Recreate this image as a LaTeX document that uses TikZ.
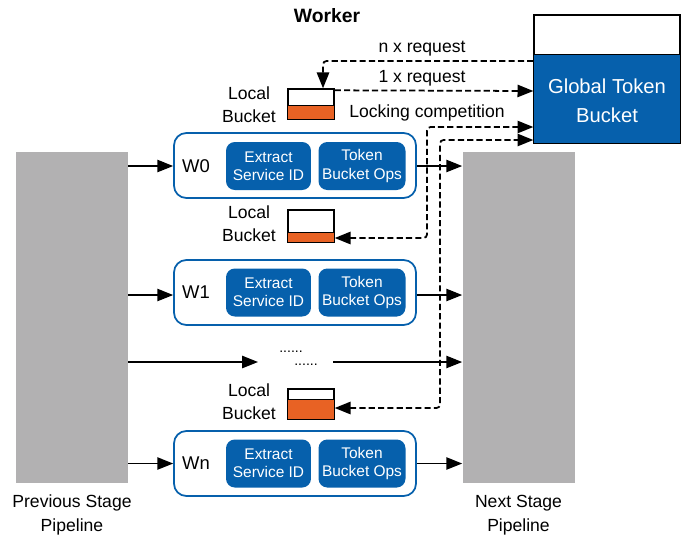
\documentclass[tikz,border=0pt]{standalone}
\usepackage{fontspec}
\setmainfont{Liberation Sans}
\usetikzlibrary{arrows.meta,calc}
\definecolor{iblue}{RGB}{6,96,172}
\definecolor{borange}{RGB}{232,98,36}
\definecolor{pgray}{RGB}{178,177,178}

\begin{document}
\begin{tikzpicture}[x=0.02cm,y=-0.02cm,>={Triangle[length=9pt,width=7pt]},
    pipe/.style={fill=pgray,minimum width=2.24cm,minimum height=6.62cm,inner sep=0},
    worker/.style={draw=iblue,line width=1pt,rounded corners=7pt,minimum width=4.84cm,minimum height=1.3cm},
    op/.style={fill=iblue,text=white,rounded corners=5pt,minimum height=0.96cm,align=center,inner sep=0,font=\fontsize{8.8}{10.3}\selectfont},
    lbucket/.style={draw,fill=white,line width=0.8pt,minimum width=0.92cm,minimum height=0.6cm,inner sep=0},
    lbl/.style={align=center,font=\fontsize{10}{13.3}\selectfont},
    flow/.style={line width=0.8pt,->},
    req/.style={line width=1pt,dash pattern=on 3.5pt off 1.8pt,rounded corners=2pt}]
    \useasboundingbox (0,0) rectangle (688,538);
    % pipelines
    \node[pipe] (prev) at (72,317.5) {};
    \node[pipe] (next) at (518.5,317.5) {};
    \node[lbl] at (72,515) {Previous Stage\\Pipeline};
    \node[lbl] at (518.5,515) {Next Stage\\Pipeline};
    \node[font=\bfseries\fontsize{11}{13}\selectfont] (title) at (327,16) {Worker};
    % global bucket
    \node[draw,line width=0.8pt,fill=white,minimum width=2.92cm,minimum height=2.56cm,inner sep=0] (gb) at (607,79) {};
    \draw[line width=0.8pt,fill=iblue] (gb.south west) rectangle ([yshift=1.78cm]gb.south east);
    \node[text=white,align=center,font=\fontsize{11.5}{16.4}\selectfont] (gbtext) at (607,100.5) {Global Token\\Bucket};
    % workers
    \node[worker] (w0) at (295,165.5) {};
    \node[worker] (w1) at (295,292.5) {};
    \node[worker] (wn) at (295,463.5) {};
    \foreach \w/\y/\t in {w0/166/W0,w1/292.5/W1,wn/463.5/Wn}{
        \node[lbl,font=\fontsize{10.5}{13}\selectfont] (\w lab) at (196,\y) {\t};
        \node[op,minimum width=1.7cm] (\w ex) at (268.5,\y) {Extract\\Service ID};
        \node[op,minimum width=1.74cm] (\w tb) at (362,\y) {Token\\Bucket Ops};
    }
    % local buckets
    \node[lbucket] (lb1) at (311,104) {};
    \draw[line width=0.8pt,fill=borange] (lb1.south west) rectangle ([yshift=0.28cm]lb1.south east);
    \node[lbucket,minimum height=0.64cm] (lb2) at (311,226) {};
    \draw[line width=0.8pt,fill=borange] (lb2.south west) rectangle ([yshift=0.2cm]lb2.south east);
    \node[lbucket] (lb3) at (311,404) {};
    \draw[line width=0.8pt,fill=borange] (lb3.south west) rectangle ([yshift=0.4cm]lb3.south east);
    \node[lbl] (lb1lab) at (249,105) {Local\\Bucket};
    \node[lbl] (lb2lab) at (249,224) {Local\\Bucket};
    \node[lbl] (lb3lab) at (249,402) {Local\\Bucket};
    % data flow
    \draw[flow] (prev.east |- w0lab) -- (w0.west |- w0lab);
    \draw[flow] (w0.east |- w0lab) -- (next.west |- w0lab);
    \draw[flow] (prev.east |- 0,295) -- (w1.west |- 0,295);
    \draw[flow] (w1.east |- 0,295) -- (next.west |- 0,295);
    \draw[flow] (prev.east |- wnlab) -- (wn.west |- wnlab);
    \draw[flow] (wn.east |- wnlab) -- (next.west |- wnlab);
    \coordinate (m1) at (258,362);
    \coordinate (m2) at (333,362);
    \draw[flow] (prev.east |- m1) -- (m1);
    \draw[flow] (m2) -- (next.west |- m2);
    \node[font=\fontsize{8}{8}\selectfont] (dots1) at (291,352) {......};
    \node[font=\fontsize{8}{8}\selectfont] (dots2) at (306,365) {......};
    % token requests
    \draw[req,->] (gb.west |- 0,61) -| ($(lb1.north)+(12,0)$);
    \draw[req,->] ($(lb1.north east)+(0,2)$) -- (gb.west |- 0,91);
    \node[lbl] (nreq) at (422,49) {n x request};
    \node[lbl] (oreq) at (422,78) {1 x request};
    \node[lbl] (lock) at (427,113) {Locking competition};
    \coordinate (c1) at (427,127);
    \coordinate (c2) at (440,140);
    \draw[req,<->] ($(lb2.east)+(0,12)$) -| (c1) -- (gb.west |- c1);
    \draw[req,<->] ($(lb3.east)+(0,4)$) -| (c2) -- (gb.west |- c2);
\end{tikzpicture}
\end{document}
